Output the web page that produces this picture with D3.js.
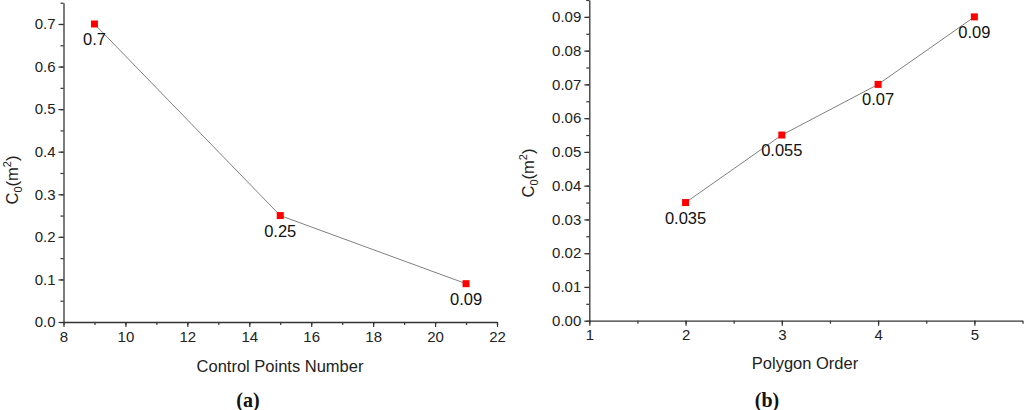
<!DOCTYPE html>
<html>
<head>
<meta charset="utf-8">
<script src="https://cdn.jsdelivr.net/npm/d3@7"></script>
<style>
  body { margin: 0; background: #fff; }
  svg { display: block; font-family: "Liberation Sans", Arial, sans-serif; }
  .domain { stroke: #333; stroke-width: 1.3; }
  .tick line { stroke: #333; stroke-width: 1.2; }
  .tick text { fill: #222; font-size: 15px; }
</style>
</head>
<body>
<svg id="chart" width="1024" height="410"></svg>
<script>
// Panel (a): C0 vs control points number
const ctrlPoints = [9, 15, 21];
const ctrlC0 = [0.7, 0.25, 0.09];
const ctrlLabels = ["0.7", "0.25", "0.09"];

// Panel (b): C0 vs polygon order
const polyOrder = [2, 3, 4, 5];
const polyC0 = [0.035, 0.055, 0.07, 0.09];
const polyLabels = ["0.035", "0.055", "0.07", "0.09"];

const svg = d3.select("#chart");

// draws one panel
const drawPanel = (cfg) => {
    const xScale = d3.scaleLinear().domain(cfg.xDomain).range(cfg.xRange);
    const yScale = d3.scaleLinear().domain(cfg.yDomain).range(cfg.yRange);
    const g = svg.append("g");

    // minor ticks first, no labels
    g.append("g")
        .attr("transform", `translate(0, ${cfg.yRange[0]})`)
        .call(d3.axisBottom(xScale).tickValues(cfg.xMinor).tickSize(3).tickFormat(""))
        .call(a => a.select(".domain").remove());
    g.append("g")
        .attr("transform", `translate(${cfg.xRange[0]}, 0)`)
        .call(d3.axisLeft(yScale).tickValues(cfg.yMinor).tickSize(3).tickFormat(""))
        .call(a => a.select(".domain").remove());

    // major axes
    g.append("g")
        .attr("transform", `translate(0, ${cfg.yRange[0]})`)
        .call(d3.axisBottom(xScale).tickValues(cfg.xMajor).tickSize(5).tickSizeOuter(0).tickPadding(4).tickFormat(d3.format("d")));
    g.append("g")
        .attr("transform", `translate(${cfg.xRange[0]}, 0)`)
        .call(d3.axisLeft(yScale).tickValues(cfg.yMajor).tickSize(5).tickSizeOuter(0).tickPadding(3).tickFormat(cfg.yFormat));

    const data = cfg.xs.map((x, i) => ({x: x, y: cfg.ys[i], label: cfg.labels[i]}));

    // connecting line
    g.append("path")
        .datum(data)
        .attr("fill", "none")
        .attr("stroke", "#808080")
        .attr("stroke-width", 1)
        .attr("d", d3.line().x(d => xScale(d.x)).y(d => yScale(d.y)));

    // red square markers
    g.selectAll(".pt")
        .data(data)
        .enter()
        .append("rect")
        .attr("class", "pt")
        .attr("x", d => xScale(d.x) - 3.5)
        .attr("y", d => yScale(d.y) - 3.5)
        .attr("width", 7)
        .attr("height", 7)
        .attr("fill", "#ff0000");

    // value labels under each point
    g.selectAll(".val")
        .data(data)
        .enter()
        .append("text")
        .attr("class", "val")
        .attr("x", d => xScale(d.x))
        .attr("y", d => yScale(d.y) + 21)
        .attr("text-anchor", "middle")
        .style("font-size", "16.5px")
        .style("fill", "#111")
        .text(d => d.label);

    // x axis title
    g.append("text")
        .attr("x", cfg.xTitlePos[0])
        .attr("y", cfg.xTitlePos[1])
        .attr("text-anchor", "middle")
        .style("font-size", "16.5px")
        .style("fill", "#222")
        .text(cfg.xTitle);

    // y axis title C0(m2)
    const yt = g.append("text")
        .attr("transform", `translate(${cfg.yTitlePos[0]}, ${cfg.yTitlePos[1]}) rotate(-90)`)
        .attr("text-anchor", "middle")
        .style("font-size", "16.5px")
        .style("fill", "#222");
    yt.append("tspan").text("C");
    yt.append("tspan").attr("dy", 4).style("font-size", "11px").text("0");
    yt.append("tspan").attr("dy", -4).text("(m");
    yt.append("tspan").attr("dy", -7).style("font-size", "11px").text("2");
    yt.append("tspan").attr("dy", 7).text(")");

    // panel caption
    g.append("text")
        .attr("x", cfg.capPos[0])
        .attr("y", cfg.capPos[1])
        .attr("text-anchor", "middle")
        .style("font-family", "'Liberation Serif', 'Times New Roman', serif")
        .style("font-weight", "bold")
        .style("font-size", "20px")
        .style("fill", "#111")
        .text(cfg.caption);
};

drawPanel({
    xs: ctrlPoints, ys: ctrlC0, labels: ctrlLabels,
    xDomain: [8, 22], xRange: [63.5, 497],
    yDomain: [0, 0.75], yRange: [322, 2.7],
    xMajor: d3.range(8, 23, 2), xMinor: d3.range(8, 23, 1),
    yMajor: d3.range(0, 0.71, 0.1), yMinor: d3.range(0, 0.751, 0.05),
    yFormat: d3.format(".1f"),
    xTitle: "Control Points Number", xTitlePos: [280, 372],
    yTitlePos: [18, 180],
    caption: "(a)", capPos: [248, 407]
});

drawPanel({
    xs: polyOrder, ys: polyC0, labels: polyLabels,
    xDomain: [1, 5.5], xRange: [589.3, 1022.5],
    yDomain: [0, 0.095], yRange: [320.7, 0],
    xMajor: [1, 2, 3, 4, 5], xMinor: d3.range(1, 5.51, 0.5),
    yMajor: d3.range(0, 0.0951, 0.01), yMinor: d3.range(0, 0.0951, 0.005),
    yFormat: d3.format(".2f"),
    xTitle: "Polygon Order", xTitlePos: [805, 369],
    yTitlePos: [534, 173],
    caption: "(b)", capPos: [767, 407]
});
</script>
</body>
</html>
